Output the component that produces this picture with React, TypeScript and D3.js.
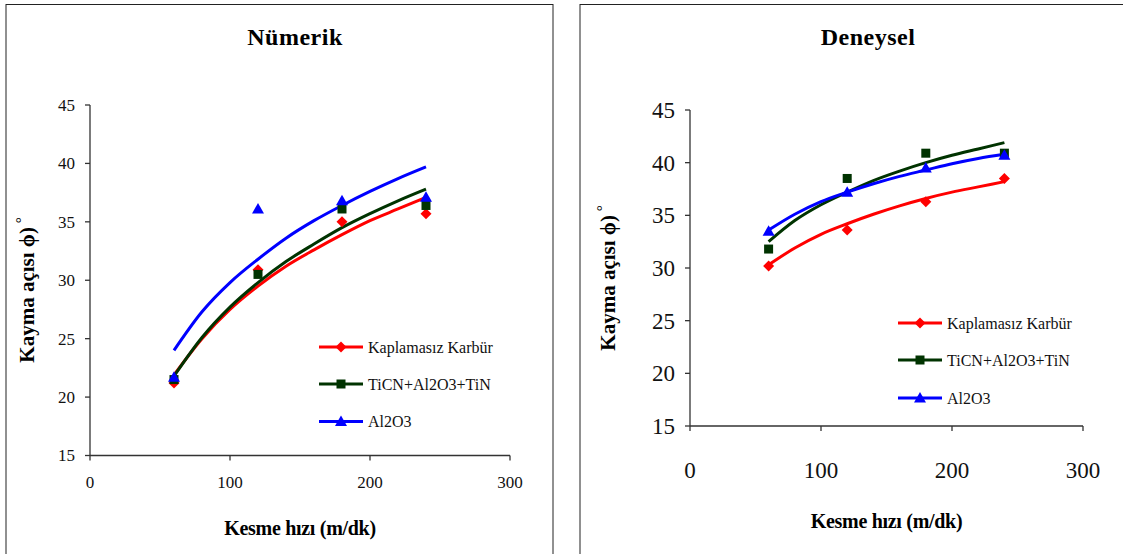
import React from 'react';
import * as d3 from 'd3';

// measured points (Kesme hızı, m/dk)
const speeds = [60, 120, 180, 240];
const trendSpeeds = [60, 80, 100, 120, 140, 160, 180, 200, 220, 240];

const seriesNames = ['Kaplamasız Karbür', 'TiCN+Al2O3+TiN', 'Al2O3'];
const seriesColors = ['#ff0000', '#003300', '#0000ff'];
const seriesMarkers = ['diamond', 'square', 'triangle'];

// Nümerik
const numKarbur = [21.2, 30.9, 35.0, 35.7];
const numTicn = [21.5, 30.5, 36.1, 36.4];
const numAl2o3 = [21.7, 36.1, 36.8, 37.1];
const numTrendKarbur = [21.9, 25.0, 27.5, 29.5, 31.2, 32.6, 33.9, 35.1, 36.1, 37.1];
const numTrendTicn = [21.8, 25.1, 27.7, 29.8, 31.6, 33.1, 34.5, 35.7, 36.8, 37.8];
const numTrendAl2o3 = [24.0, 27.3, 29.8, 31.8, 33.6, 35.1, 36.4, 37.6, 38.7, 39.7];

// Deneysel
const expKarbur = [30.2, 33.6, 36.3, 38.5];
const expTicn = [31.8, 38.5, 40.9, 40.9];
const expAl2o3 = [33.5, 37.2, 39.5, 40.7];
const expTrendKarbur = [30.3, 31.9, 33.2, 34.2, 35.1, 35.9, 36.6, 37.2, 37.7, 38.2];
const expTrendTicn = [32.5, 34.5, 36.0, 37.2, 38.3, 39.2, 40.0, 40.7, 41.3, 41.9];
const expTrendAl2o3 = [33.6, 35.1, 36.3, 37.2, 38.0, 38.7, 39.3, 39.9, 40.4, 40.8];

const xTicks = [0, 100, 200, 300];
const yTicks = [15, 20, 25, 30, 35, 40, 45];

const FONT = "'Liberation Serif', 'Tinos', 'Times New Roman', Times, 'Nimbus Roman', 'FreeSerif', 'DejaVu Serif', serif";

function Marker({ type, x, y, color }) {
  if (type === 'diamond') {
    const r = 5.5;
    return <path d={`M${x},${y - r}L${x + r},${y}L${x},${y + r}L${x - r},${y}Z`} fill={color} />;
  }
  if (type === 'square') {
    const s = 4.5;
    return <rect x={x - s} y={y - s} width={s * 2} height={s * 2} fill={color} />;
  }
  const r = 6;
  return <path d={`M${x},${y - r}L${x + r},${y + r * 0.75}L${x - r},${y + r * 0.75}Z`} fill={color} />;
}

function Panel({ cfg }) {
  const x = d3.scaleLinear().domain([0, 300]).range([cfg.x0, cfg.x1]);
  const y = d3.scaleLinear().domain([15, 45]).range([cfg.y0, cfg.y1]);
  const line = d3.line<number>()
    .x((d, i) => x(trendSpeeds[i]))
    .y(d => y(d))
    .curve(d3.curveMonotoneX);

  return (
    <g fontFamily={FONT}>
      <rect x={cfg.fx} y={4.5} width={cfg.fw} height={600} fill="#fff" stroke="#222" strokeWidth={1} />
      <text x={cfg.titleX} y={37} dy="0.35em" textAnchor="middle" fontWeight="bold" fontSize={24} letterSpacing={0.5}>
        {cfg.title}
      </text>

      {/* y axis */}
      <line x1={cfg.x0} x2={cfg.x0} y1={y(45)} y2={y(15)} stroke="#333" strokeWidth={1.3} />
      {yTicks.map(t => (
        <g key={'y' + t}>
          <line x1={cfg.x0 - 5} x2={cfg.x0} y1={y(t)} y2={y(t)} stroke="#333" strokeWidth={1.3} />
          <text x={cfg.x0 - 15} y={y(t)} dy="0.35em" textAnchor="end" fontSize={cfg.tickSize} fill="#111">{t}</text>
        </g>
      ))}

      {/* x axis */}
      <line x1={cfg.x0} x2={cfg.x1} y1={y(15)} y2={y(15)} stroke="#333" strokeWidth={1.3} />
      {xTicks.map(t => (
        <g key={'x' + t}>
          <line x1={x(t)} x2={x(t)} y1={y(15)} y2={y(15) + 5} stroke="#333" strokeWidth={1.3} />
          <text x={x(t)} y={cfg.xLabelY} dy="0.35em" textAnchor="middle" fontSize={cfg.tickSize} fill="#111">{t}</text>
        </g>
      ))}

      <text x={(cfg.x0 + cfg.x1) / 2} y={cfg.xTitleY} dy="0.35em" textAnchor="middle" fontWeight="bold" fontSize={20} letterSpacing={-0.3}>
        Kesme hızı (m/dk)
      </text>
      <text
        transform={`translate(${cfg.yTitleX},${cfg.yTitleY}) rotate(-90)`}
        textAnchor="middle" dy="0.35em" fontWeight="bold" fontSize={21}
      >
        Kayma açısı ϕ)<tspan fontWeight="normal" fontSize={15} dy="-8"> °</tspan>
      </text>

      {/* trendlines */}
      {cfg.trends.map((vals, i) => (
        <path key={'t' + i} d={line(vals) || ''} fill="none" stroke={seriesColors[i]} strokeWidth={3} />
      ))}
      {/* measured points */}
      {cfg.points.map((vals, i) => vals.map((v, j) => (
        <Marker key={'m' + i + '-' + j} type={seriesMarkers[i]} x={x(speeds[j])} y={y(v)} color={seriesColors[i]} />
      )))}

      {/* legend */}
      {seriesNames.map((name, i) => {
        const ly = cfg.legendY[i];
        return (
          <g key={'l' + i}>
            <line x1={cfg.legendX} x2={cfg.legendX + 44} y1={ly} y2={ly} stroke={seriesColors[i]} strokeWidth={3} />
            <Marker type={seriesMarkers[i]} x={cfg.legendX + 22} y={ly} color={seriesColors[i]} />
            <text x={cfg.legendX + 49} y={ly} dy="0.35em" fontSize={16} fill="#111">{name}</text>
          </g>
        );
      })}
    </g>
  );
}

export default function App() {
  const left = {
    title: 'Nümerik', titleX: 295,
    fx: 6, fw: 547,
    x0: 90, x1: 510, y0: 455.5, y1: 105,
    tickSize: 17, xLabelY: 482, xTitleY: 528,
    yTitleX: 27, yTitleY: 290,
    legendX: 319, legendY: [347, 384, 421.5],
    trends: [numTrendKarbur, numTrendTicn, numTrendAl2o3],
    points: [numKarbur, numTicn, numAl2o3],
  };
  const right = {
    title: 'Deneysel', titleX: 868,
    fx: 580, fw: 560,
    x0: 690, x1: 1083, y0: 426, y1: 110,
    tickSize: 23, xLabelY: 470, xTitleY: 521,
    yTitleX: 608, yTitleY: 278,
    legendX: 898, legendY: [323, 360, 398],
    trends: [expTrendKarbur, expTrendTicn, expTrendAl2o3],
    points: [expKarbur, expTicn, expAl2o3],
  };
  return (
    <div style={{ position: 'absolute', left: 0, top: 0 }}>
      <svg width={1123} height={554} style={{ display: 'block', background: '#fff' }}>
        <Panel cfg={left} />
        <Panel cfg={right} />
      </svg>
    </div>
  );
}
